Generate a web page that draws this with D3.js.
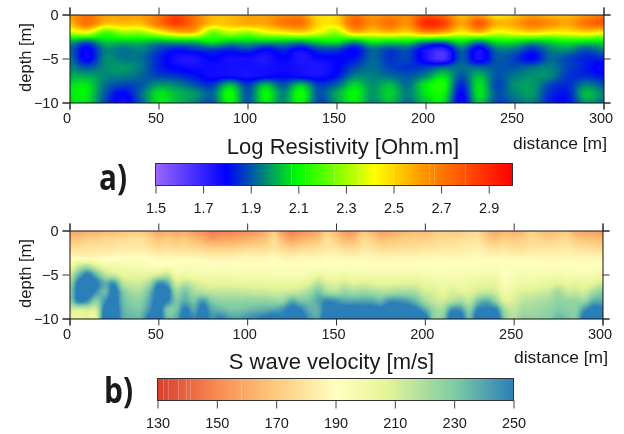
<!DOCTYPE html>
<html>
<head>
<meta charset="utf-8">
<script src="https://cdn.jsdelivr.net/npm/d3@7"></script>
<style>
html, body { margin: 0; padding: 0; background: #fff; }
#wrap { position: relative; width: 624px; height: 434px; overflow: hidden; }
canvas, svg { position: absolute; left: 0; top: 0; }
text { font-family: "Liberation Sans", Arial, sans-serif; fill: #1a1a1a; }
</style>
</head>
<body>
<div id="wrap"></div>
<script>
// distance of the columns, depth of the rows
let resDistances = d3.range(0, 301, 10)
let velDistances = d3.range(0, 301, 5)
let depths = [0, -1, -2, -3, -4, -5, -6, -7, -8, -9, -10]

let xTicks = [0, 50, 100, 150, 200, 250, 300]
let depthTicks = [0, -5, -10]

// log resistivity, one list per depth
let res0 = [2.6,2.72,2.6,2.6,2.6,2.7,2.82,2.7,2.55,2.55,2.6,2.6,2.65,2.65,2.48,2.5,2.7,2.62,2.65,2.65,2.78,2.72,2.55,2.6,2.45,2.52,2.6,2.55,2.55,2.62,2.7]
let res1 = [2.55,2.72,2.55,2.55,2.55,2.72,2.85,2.72,2.55,2.55,2.6,2.6,2.7,2.72,2.5,2.5,2.75,2.65,2.72,2.65,2.9,2.85,2.6,2.78,2.58,2.6,2.7,2.65,2.6,2.72,2.78]
let res2 = [2.35,2.42,2.2,2.3,2.3,2.42,2.55,2.55,2.25,2.35,2.3,2.4,2.45,2.5,2.4,2.3,2.55,2.5,2.55,2.5,2.65,2.6,2.45,2.55,2.4,2.45,2.5,2.45,2.45,2.5,2.45]
let res3 = [2.02,1.95,2.05,2.05,2.05,2.02,2.05,2.05,2.1,2.05,2.05,2.05,2.05,2.03,2.08,2.1,2.02,2.12,2.1,2.1,2.02,2.0,2.1,2.0,2.1,2.1,2.05,2.08,2.12,2.1,2.1]
let res4 = [1.92,1.78,1.95,1.93,1.95,1.88,1.82,1.85,1.87,1.84,1.87,1.8,1.85,1.78,1.87,1.87,1.8,1.92,1.88,1.9,1.76,1.7,1.92,1.77,1.93,1.93,1.85,1.95,1.97,1.9,1.95]
let res5 = [1.94,1.78,1.96,1.94,1.93,1.84,1.76,1.74,1.8,1.76,1.76,1.74,1.8,1.74,1.78,1.8,1.82,1.92,1.86,1.88,1.75,1.65,1.9,1.75,1.9,1.87,1.8,1.92,1.88,1.84,1.84]
let res6 = [1.96,1.9,1.96,1.98,1.94,1.84,1.79,1.77,1.77,1.76,1.76,1.76,1.77,1.76,1.74,1.79,1.88,1.93,1.88,1.86,1.87,1.92,1.93,1.92,1.9,1.9,1.93,1.95,1.88,1.83,1.78]
let res7 = [2.0,2.0,1.96,1.95,1.92,1.88,1.86,1.82,1.77,1.78,1.75,1.78,1.8,1.78,1.76,1.82,1.95,1.95,1.93,1.9,1.96,2.06,1.9,2.02,1.9,1.94,1.97,1.96,1.86,1.85,1.82]
let res8 = [2.06,2.07,1.93,1.88,1.9,1.98,1.96,1.9,1.86,2.02,1.87,2.02,1.9,2.03,1.87,1.92,2.05,1.97,2.02,1.93,2.08,2.13,1.84,2.07,1.88,1.97,1.98,1.88,1.85,1.95,1.9]
let res9 = [2.08,2.08,1.9,1.8,1.92,2.07,2.02,1.98,1.92,2.12,1.9,2.1,1.96,2.12,1.9,2.0,2.1,1.98,2.05,1.95,2.07,2.1,1.8,2.07,1.9,1.95,1.98,1.85,1.83,2.02,1.95]
let res10 = [2.06,2.06,1.88,1.77,1.9,2.07,2.02,1.96,1.9,2.1,1.9,2.07,1.96,2.1,1.88,1.98,2.07,1.96,2.02,1.93,2.03,2.06,1.78,2.03,1.88,1.92,1.95,1.83,1.81,1.98,1.93]
let resistivity = [res0, res1, res2, res3, res4, res5, res6, res7, res8, res9, res10]

// s wave velocity, one list per depth
let vel0 = [158,158,162,162,165,165,168,170,170,165,158,162,158,160,155,152,146,148,148,150,152,155,160,170,155,148,152,155,160,170,165,155,155,168,165,157,158,162,164,165,165,168,172,170,172,174,175,165,160,165,162,165,172,168,165,168,170,160,158,157,155]
let vel1 = [168,168,172,172,175,175,177,178,178,174,168,171,168,170,165,162,156,158,158,160,162,165,168,176,165,158,162,165,168,177,172,165,165,175,172,167,168,170,171,172,172,174,176,176,178,179,180,172,168,172,170,172,176,174,172,174,176,170,168,167,165]
let vel2 = [178,178,180,180,180,181,182,182,182,180,176,178,176,177,175,174,172,172,172,173,175,175,176,180,175,172,175,176,178,181,180,176,176,180,180,176,176,177,178,178,180,180,181,181,182,183,184,180,178,180,178,178,180,180,180,181,182,179,178,176,175]
let vel3 = [188,187,186,187,188,189,190,190,190,188,186,187,186,186,186,185,184,184,184,185,186,186,186,188,185,184,186,186,186,188,187,186,185,187,186,185,185,186,186,186,186,187,187,187,187,188,188,187,187,187,186,186,187,186,186,186,186,186,186,186,185]
let vel4 = [198,212,218,208,200,199,198,196,195,193,192,193,193,194,194,193,192,192,192,191,190,190,190,192,191,191,191,191,191,192,191,192,192,192,191,191,190,191,191,191,191,191,190,191,191,192,192,193,193,192,192,192,192,191,191,191,191,191,190,191,192]
let vel5 = [212,235,250,235,218,212,206,205,205,205,210,215,200,200,198,197,197,198,197,197,197,197,197,195,195,195,195,197,203,198,198,200,197,198,198,197,197,198,198,198,196,195,194,195,195,196,197,198,198,192,194,196,195,196,197,198,196,196,195,197,200]
let vel6 = [222,252,258,252,238,245,218,213,213,222,245,240,212,218,212,208,206,206,205,205,204,204,204,203,203,204,205,208,218,210,208,212,208,210,208,206,207,208,208,208,204,203,200,202,200,202,205,206,205,195,198,202,202,204,205,208,205,206,204,207,212]
let vel7 = [228,255,258,245,235,255,232,222,222,235,256,256,225,232,222,218,216,216,216,215,215,214,214,212,212,214,216,222,232,222,220,225,222,224,222,220,220,222,222,220,212,210,205,210,208,208,212,214,212,200,205,210,210,212,214,222,214,214,212,222,228]
let vel8 = [225,250,245,228,245,258,235,228,228,240,258,250,232,238,232,243,230,226,226,225,226,226,226,225,225,238,232,232,240,248,245,240,240,240,240,236,245,245,242,235,222,215,212,218,222,215,232,238,225,208,210,216,218,220,222,226,225,225,225,238,238]
let vel9 = [212,210,212,212,255,262,238,232,232,245,258,232,232,252,240,255,240,236,232,232,234,236,238,240,245,255,250,238,238,258,256,258,258,256,256,254,258,258,258,252,240,225,222,245,245,228,250,252,250,222,215,222,222,224,226,230,228,228,245,255,255]
let vel10 = [205,205,206,206,262,265,240,236,236,255,262,235,238,258,248,258,245,250,242,240,245,248,252,258,250,262,258,245,240,265,266,266,266,266,266,264,266,268,268,266,258,228,228,258,258,235,262,265,262,228,218,225,225,226,228,235,232,230,258,265,265]
let velocity = [vel0, vel1, vel2, vel3, vel4, vel5, vel6, vel7, vel8, vel9, vel10]

// colour bars
let resStops = [1.5, 1.8, 2.1, 2.42, 2.62, 3.0]
let resColors = ["#9966ff", "#0000ff", "#00ff00", "#ffff00", "#ff9900", "#ff0000"]
let resTicks = [1.5, 1.7, 1.9, 2.1, 2.3, 2.5, 2.7, 2.9]
let velStops = [130, 150, 170, 190, 207, 230, 250]
let velColors = ["#d73f2e", "#f98a52", "#fdcb7e", "#ffffbf", "#e6f598", "#7fcca4", "#2b7fb8"]
let velTicks = [130, 150, 170, 190, 210, 230, 250]
let resStreaks = [2.07, 2.13, 2.25, 2.35, 2.5, 2.65, 2.67, 2.8]
let velStreaks = [132, 133.5, 137, 139.5, 141, 158]

let wrap = d3.select("#wrap")
let canvas = wrap.append("canvas").attr("width", 624).attr("height", 434)
let ctx = canvas.node().getContext("2d")
let svg = wrap.append("svg").attr("width", 624).attr("height", 434)

let resColor = d3.scaleLinear().domain(resStops).range(resColors).clamp(true)
let velColor = d3.scaleLinear().domain(velStops).range(velColors).clamp(true)

function catmull(p0, p1, p2, p3, t) {
    return 0.5 * (2 * p1 + (p2 - p0) * t + (2 * p0 - 5 * p1 + 4 * p2 - p3) * t * t + (3 * p1 - p0 - 3 * p2 + p3) * t * t * t)
}

// smooth value at a fractional column / row of the grid
function sample(grid, c, r) {
    let nc = grid[0].length, nr = grid.length
    let c1 = Math.min(Math.floor(c), nc - 2), r1 = Math.min(Math.floor(r), nr - 2)
    let col = i => Math.max(0, Math.min(nc - 1, i))
    let row = i => Math.max(0, Math.min(nr - 1, i))
    let vals = [-1, 0, 1, 2].map(j => {
        let g = grid[row(r1 + j)]
        return catmull(g[col(c1 - 1)], g[c1], g[c1 + 1], g[col(c1 + 2)], c - c1)
    })
    // no overshoot between rows, it drew dark lines under the top layer
    let v = catmull(vals[0], vals[1], vals[2], vals[3], r - r1)
    return Math.max(Math.min(vals[1], vals[2]), Math.min(Math.max(vals[1], vals[2]), v))
}

function drawSection(grid, distances, color, left, right, top, bottom) {
    let x = d3.scaleLinear().domain([0, 300]).range([left, right])
    let y = d3.scaleLinear().domain([0, -10]).range([top, bottom])
    let colIndex = d3.scaleLinear().domain(distances).range(d3.range(distances.length))
    let rowIndex = d3.scaleLinear().domain(depths).range(d3.range(depths.length))

    for (let px = Math.round(left); px < Math.round(right); px++) {
        for (let py = Math.round(top); py < Math.round(bottom); py++) {
            ctx.fillStyle = color(sample(grid, colIndex(x.invert(px + 0.5)), rowIndex(y.invert(py + 0.5))))
            ctx.fillRect(px, py, 1, 1)
        }
    }

    let g = svg.append("g")
    g.append("g").attr("transform", "translate(0," + bottom + ")")
        .call(d3.axisBottom(x).tickValues(xTicks).tickSize(7).tickPadding(3))
    g.append("g").attr("transform", "translate(0," + top + ")")
        .call(d3.axisTop(x).tickValues(xTicks).tickSize(7).tickFormat(""))
    g.append("g").attr("transform", "translate(" + left + ",0)")
        .call(d3.axisLeft(y).tickValues(depthTicks).tickSize(7).tickPadding(4))
    g.append("g").attr("transform", "translate(" + right + ",0)")
        .call(d3.axisRight(y).tickValues(depthTicks).tickSize(7).tickFormat(""))
    g.selectAll(".domain").attr("stroke", "#111").attr("stroke-width", 1)
    g.selectAll(".tick line").attr("stroke", "#333")
    g.selectAll("text").attr("font-size", 14.5).attr("font-family", "Liberation Sans").attr("fill", "#1a1a1a")
    // the labels sit a bit left of their ticks in the original
    g.selectAll(".tick text").filter(function() { return this.getAttribute("y") > 0 }).attr("dx", -3)

    g.append("text").attr("transform", "translate(31," + ((top + bottom) / 2 - 1) + ") rotate(-90)")
        .attr("text-anchor", "middle").attr("font-size", 16.5).text("depth [m]")
}

function drawBar(color, stops, ticks, streaks, format, left, right, top, bottom) {
    let x = d3.scaleLinear().domain([stops[0], stops[stops.length - 1]]).range([left, right])
    for (let px = Math.round(left); px < Math.round(right); px++) {
        ctx.fillStyle = color(x.invert(px + 0.5))
        ctx.fillRect(px, Math.round(top), 1, Math.round(bottom - top))
    }
    ctx.fillStyle = "rgba(255,255,255,0.22)"
    streaks.forEach(d => ctx.fillRect(Math.round(x(d)), Math.round(top), 1, Math.round(bottom - top)))

    svg.append("rect").attr("x", left).attr("y", top).attr("width", right - left).attr("height", bottom - top)
        .attr("fill", "none").attr("stroke", "#333")
    let a = svg.append("g").attr("transform", "translate(0," + bottom + ")")
        .call(d3.axisBottom(x).tickValues(ticks).tickFormat(format).tickSize(8).tickPadding(9))
    a.select(".domain").remove()
    a.selectAll(".tick line").attr("stroke", "#444")
    a.selectAll("text").attr("font-size", 14.5).attr("font-family", "Liberation Sans").attr("fill", "#1a1a1a")
}

function label(txt, px, py, size, anchor) {
    return svg.append("text").attr("x", px).attr("y", py).attr("font-size", size)
        .attr("text-anchor", anchor || "start").text(txt)
}

drawSection(resistivity, resDistances, resColor, 69.5, 603.5, 14.5, 102.5)
drawSection(velocity, velDistances, velColor, 69.5, 602.5, 230.5, 318.5)

drawBar(resColor, resStops, resTicks, resStreaks, d3.format(".1f"), 155.5, 512.5, 163.5, 185.5)
drawBar(velColor, velStops, velTicks, velStreaks, d3.format("d"), 157.5, 513.5, 378.5, 400.5)

label("Log Resistivity [Ohm.m]", 343, 154, 22, "middle")
label("distance [m]", 513, 148.5, 16).attr("textLength", 94).attr("lengthAdjust", "spacingAndGlyphs")
label("S wave velocity [m/s]", 331.5, 369, 22, "middle")
label("distance [m]", 514, 362.5, 16).attr("textLength", 94).attr("lengthAdjust", "spacingAndGlyphs")
label("a)", 99, 190, 36).attr("textLength", 28).attr("lengthAdjust", "spacingAndGlyphs")
    .style("font-family", "Open Sans").attr("font-weight", 700)
label("b)", 104, 403, 36).attr("textLength", 29).attr("lengthAdjust", "spacingAndGlyphs")
    .style("font-family", "Open Sans").attr("font-weight", 700)
</script>
</body>
</html>
